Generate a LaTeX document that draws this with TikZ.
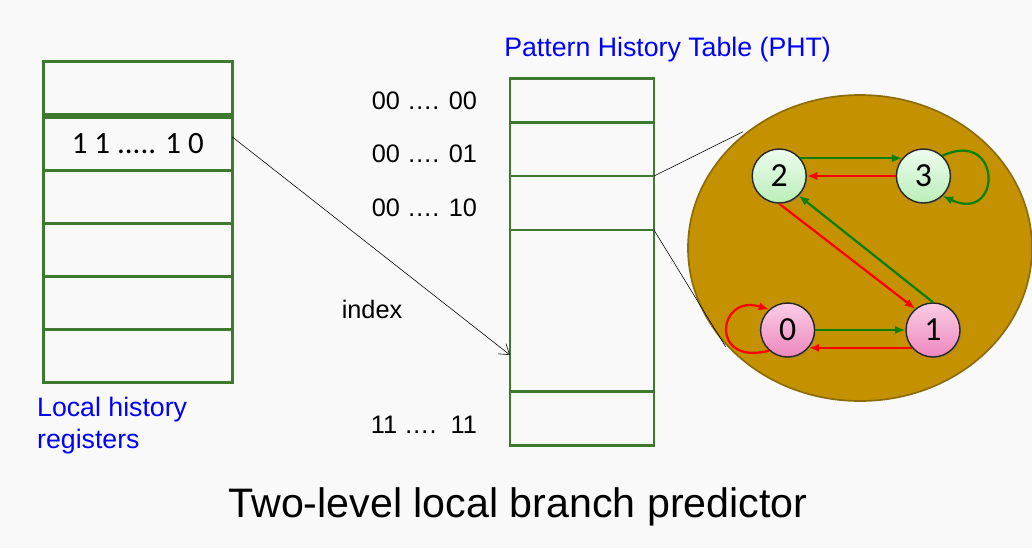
\documentclass[tikz,border=0pt]{standalone}
\usepackage{fontspec}
\setmainfont{Liberation Sans}
\newfontfamily\calib{Carlito}
\usetikzlibrary{positioning}
\usetikzlibrary{arrows,arrows.meta,shapes,shadows}
\definecolor{tabgreen}{RGB}{62,122,46}
\definecolor{bggray}{RGB}{249,249,249}
\definecolor{fsmgold}{RGB}{196,146,0}
\definecolor{fsmrim}{RGB}{140,108,10}
\definecolor{takgreen}{RGB}{10,128,10}
\definecolor{ntred}{RGB}{255,0,0}
\definecolor{lhblue}{RGB}{0,0,255}
\definecolor{gtop}{RGB}{238,252,238}
\definecolor{gbot}{RGB}{185,238,185}
\definecolor{ptop}{RGB}{250,205,228}
\definecolor{pbot}{RGB}{238,135,190}
\tikzstyle{reg} = [draw=tabgreen, line width=2pt, inner sep=0, outer sep=0, minimum width=4.725cm, minimum height=1.3275cm]
\tikzstyle{pht} = [draw=tabgreen, line width=2pt, inner sep=0, outer sep=0, minimum width=3.6cm]
\tikzstyle{lab} = [inner sep=0, font=\fontsize{18}{21.6}\selectfont]
\tikzstyle{sat} = [circle, draw=black!85, line width=1pt, minimum size=1.35cm, inner sep=0,
  font=\calib\fontsize{24}{28}\selectfont,
  drop shadow={opacity=0.3, shadow xshift=0.04cm, shadow yshift=-0.04cm}]

\begin{document}
\begin{tikzpicture}[node distance=0cm,>={Latex[length=2.6mm,width=2.1mm]},
  every edge/.append style={line width=1.6pt}]
  \fill[bggray] (0,0) rectangle (25.8,-13.7);
  \useasboundingbox (0,0) rectangle (25.8,-13.7);

  % local history registers
  \node[reg] (r1) at (3.445,-2.206) {};
  \node[reg] (r2) [below=0.06cm of r1] {\calib\fontsize{22}{26}\selectfont 1 1 ..... 1 0};
  \node[reg] (r3) [below=of r2] {};
  \node[reg] (r4) [below=of r3] {};
  \node[reg] (r5) [below=of r4] {};
  \node[reg] (r6) [below=of r5] {};
  \node[lab, lhblue, anchor=north west, align=left, font=\fontsize{19}{22.8}\selectfont] (lhr)
    at ([xshift=-0.16cm, yshift=-0.36cm]r6.south west) {Local history\\registers};

  % pattern history table
  \node[pht, minimum height=1.11cm] (p1) at (14.55,-2.5125) {};
  \node[pht, minimum height=1.333cm] (p2) [below=of p1] {};
  \node[pht, minimum height=1.35cm] (p3) [below=of p2] {};
  \node[pht, minimum height=4.04cm] (p4) [below=of p3] {};
  \node[pht, minimum height=1.35cm] (p5) [below=of p4] {};
  \node[lhblue, font=\fontsize{19}{23}\selectfont] (phtname) at (16.69,-1.25) {Pattern History Table (PHT)};

  \node[lab, left=0.82cm of p1] (a00) {00 …. 00};
  \node[lab, left=0.82cm of p2, yshift=-0.12cm] (a01) {00 …. 01};
  \node[lab, left=0.82cm of p3, yshift=-0.12cm] (a10) {00 …. 10};
  \node[lab, left=0.82cm of p5, yshift=-0.16cm] (a11) {11 ….\ \ 11};
  \node[lab] (idx) at (9.3,-7.725) {index};

  \coordinate (hit) at (12.75,-8.875);
  \draw[-{Straight Barb[length=2.4mm,width=3.2mm]}, thin] ([yshift=0.17cm]r2.east) -- (hit);

  % saturating counter
  \node[ellipse, draw=fsmrim, fill=fsmgold, line width=1.2pt,
    minimum width=8.6cm, minimum height=7.65cm] (fsm) at (21.5,-6.2) {};
  \coordinate (z1) at (18.575,-3.293);
  \coordinate (z2) at (18.14,-8.668);
  \draw[thin] (p3.north east) -- (z1);
  \draw[thin] (p4.north east) -- (z2);

  \node[sat, top color=gtop, bottom color=gbot] (s2) at (19.48,-4.4) {2};
  \node[sat, top color=gtop, bottom color=gbot] (s3) [right=2.22cm of s2] {3};
  \node[sat, top color=ptop, bottom color=pbot] (s0) at (19.69,-8.25) {0};
  \node[sat, top color=ptop, bottom color=pbot] (s1) [right=2.25cm of s0] {1};

  \path (s2.40) edge[takgreen, ->] (s3.140)
        (s3.west) edge[ntred, ->] (s2.east)
        (s2.south) edge[ntred, ->] (s1.130)
        (s1.north) edge[takgreen, ->] (s2.-45)
        (s0.east) edge[takgreen, ->] (s1.west)
        (s1.220) edge[ntred, ->] (s0.-40);
  \draw[takgreen, line width=1.6pt, ->] (s3.47) .. controls +(1.5,0.7) and +(1.5,-0.7) .. (s3.-46);
  \draw[ntred, line width=1.6pt, ->] (s0.228) .. controls +(-1.5,-0.4) and +(-1.3,0.4) .. (s0.132);

  \node[font=\fontsize{29.3}{35}\selectfont] (ttl) at (12.95,-12.67) {Two-level local branch predictor};
\end{tikzpicture}
\end{document}
